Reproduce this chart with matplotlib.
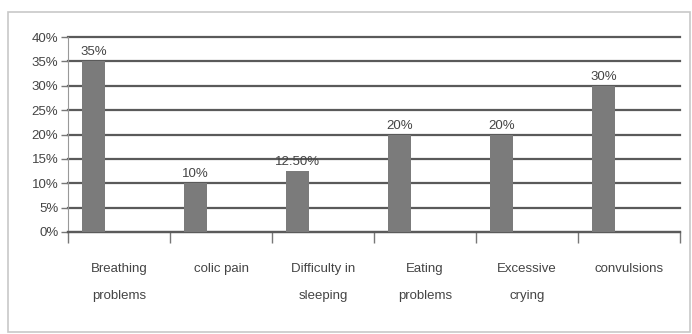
import matplotlib.pyplot as plt
from matplotlib.patches import Rectangle
from matplotlib.ticker import FixedLocator

categories = ["Breathing\nproblems", "colic pain", "Difficulty in\nsleeping",
              "Eating\nproblems", "Excessive\ncrying", "convulsions"]
values = [35, 10, 12.5, 20, 20, 30]
value_labels = ["35%", "10%", "12.50%", "20%", "20%", "30%"]
yticks = [0, 5, 10, 15, 20, 25, 30, 35, 40]
ytick_labels = ["0%", "5%", "10%", "15%", "20%", "25%", "30%", "35%", "40%"]

plt.rcParams['font.family'] = ['Liberation Sans', 'DejaVu Sans']
fig = plt.figure(figsize=(6.92, 3.34), dpi=100)
fig.patches.append(Rectangle((8/692, 2/334), 682/692, 320/334, transform=fig.transFigure,
                             fill=False, edgecolor='#c8c8c8', linewidth=1.2))
ax = fig.add_axes([68/692, 102/334, 612/692, 195/334])

x = list(range(len(categories)))
bx = [i - 0.25 for i in x]
ax.bar(bx, values, width=0.23, color='#7b7b7b', zorder=3)
for xi, v, lab in zip(bx, values, value_labels):
    ax.text(xi, v + 0.6, lab, ha='center', va='bottom', fontsize=9.5, color='#444444', zorder=4)

ax.set_xlim(-0.5, len(categories) - 0.5)
ax.set_ylim(0, 40)
ax.set_yticks(yticks)
ax.set_yticklabels(ytick_labels, fontsize=9.5, color='#444444')
ax.yaxis.grid(True, color='#5a5a5a', linewidth=1.6, zorder=0)
for gl in ax.get_ygridlines():
    gl.set_clip_on(False)
ax.set_xticks(x)
ax.set_xticklabels(categories, fontsize=9.5, color='#444444', linespacing=2.75)
ax.tick_params(axis='x', length=0, pad=22)
ax.xaxis.set_minor_locator(FixedLocator([i - 0.5 for i in range(len(categories) + 1)]))
ax.tick_params(axis='x', which='minor', length=8, color='#777777', width=1)
ax.tick_params(axis='y', length=5, color='#777777', width=1, pad=2)
for s in ['top', 'right']:
    ax.spines[s].set_visible(False)
ax.spines['left'].set_color('#999999')
ax.spines['bottom'].set_color('#5a5a5a')
ax.spines['bottom'].set_linewidth(1.6)

fig.savefig('out.png', dpi=100)
